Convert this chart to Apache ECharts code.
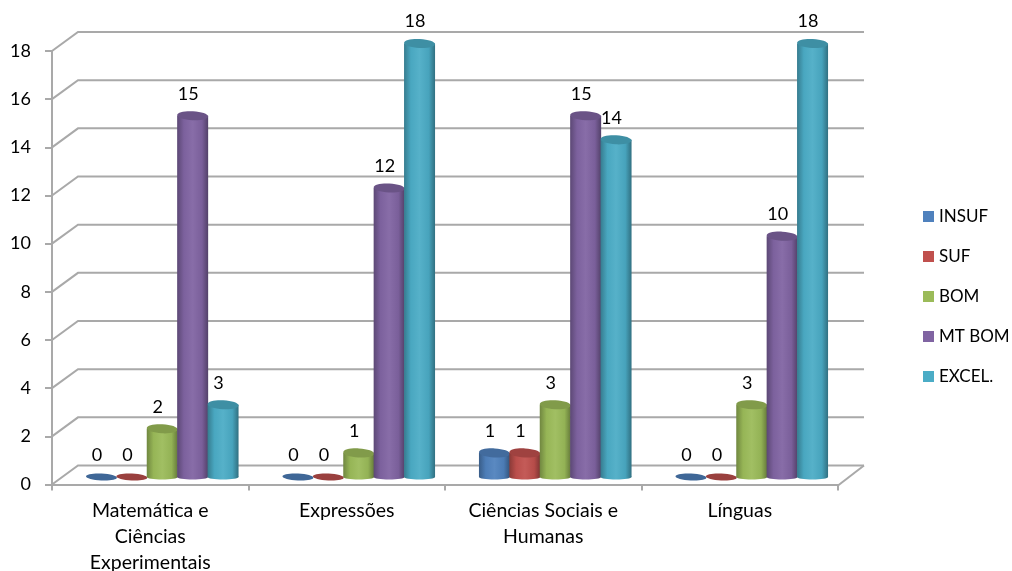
<!DOCTYPE html>
<html><head><meta charset="utf-8">
<style>html,body{margin:0;padding:0;background:#fff}#c{width:1012px;height:571px}#c canvas{filter:blur(0.6px)}</style>
<script src="https://cdn.jsdelivr.net/npm/echarts@6/dist/echarts.min.js"></script>
</head><body><div id="c"></div>
<script>
var categories = ['Matemática e\nCiências\nExperimentais','Expressões','Ciências Sociais e\nHumanas','Línguas'];
var seriesNames = ['INSUF','SUF','BOM','MT BOM','EXCEL.'];
var insuf = [0,0,1,0];
var suf = [0,0,1,0];
var bom = [2,1,3,3];
var mtBom = [15,12,15,10];
var excel = [3,18,14,18];
var yTicks = [0,2,4,6,8,10,12,14,16,18];
var colors = ['#4f81bd','#c0504d','#9bbb59','#8064a2','#4bacc6'];

var FONT = 'Lato';
var GRID = {left:52,right:174,top:51,bottom:86.5,outerBoundsMode:'none'};
var DEPTH = {x:26,y:-19};
var BAR = {w:31,step:30.4,rx:15.5,ry:4.5,ryBottom:2.5,dx:12,dy:-7.5,rot:-0.05};

function shade(hex,f){
  var n=parseInt(hex.slice(1),16),r=(n>>16)&255,g=(n>>8)&255,b=n&255;
  function c(v){return Math.round(f<0?v*(1+f):v+(255-v)*f);}
  return 'rgb('+c(r)+','+c(g)+','+c(b)+')';
}
function barSeries(name,idx,values){
  var base=colors[idx];
  return {
    type:'custom',name:name,z:3+idx,
    itemStyle:{color:base},
    encode:{x:0,y:1},
    data:values.map(function(v,i){return [i,v];}),
    renderItem:function(params,api){
      var cat=api.value(0),val=api.value(1);
      var top=api.coord([cat,val]),bot=api.coord([cat,0]);
      var cx=top[0]+(idx-2)*BAR.step+BAR.dx;
      var yt=top[1]+BAR.dy,yb=bot[1]+BAR.dy;
      var kids=[];
      if(val>0){
        var body=new echarts.graphic.LinearGradient(0,0,1,0,[
          {offset:0,color:shade(base,-0.28)},
          {offset:0.22,color:shade(base,-0.03)},
          {offset:0.5,color:shade(base,0.06)},
          {offset:0.8,color:shade(base,-0.05)},
          {offset:1,color:shade(base,-0.35)}]);
        kids.push({type:'rect',shape:{x:cx-BAR.rx,y:yt,width:BAR.w,height:yb-yt},style:{fill:body}});
        kids.push({type:'ellipse',shape:{cx:cx,cy:yb,rx:BAR.rx,ry:BAR.ryBottom},style:{fill:body}});
        kids.push({type:'ellipse',x:cx,y:yt,rotation:BAR.rot,shape:{cx:0,cy:0,rx:BAR.rx,ry:BAR.ry},style:{fill:shade(base,-0.17)}});
      } else {
        kids.push({type:'ellipse',x:cx,y:yb,rotation:BAR.rot,shape:{cx:0,cy:0,rx:BAR.rx,ry:3.5},style:{fill:shade(base,-0.2)}});
      }
      kids.push({type:'text',style:{text:String(val),x:cx-4.5,y:yt-22,align:'center',verticalAlign:'middle',
        fill:'#000',font:'18px '+FONT}});
      return {type:'group',children:kids};
    }
  };
}
var wallSeries={
  type:'custom',silent:true,z:1,
  encode:{y:0},
  data:yTicks.map(function(t){return [t];}),
  renderItem:function(params,api){
    var y=api.coord([0,api.value(0)])[1];
    var cs=params.coordSys,x0=cs.x,x1=cs.x+cs.width;
    var ls={stroke:'#a9a9a9',lineWidth:2,fill:null};
    var kids=[{type:'polyline',shape:{points:[[x0,y],[x0+DEPTH.x,y+DEPTH.y],[x1+DEPTH.x,y+DEPTH.y]]},style:ls}];
    if(api.value(0)===0){
      kids.push({type:'line',shape:{x1:x1,y1:y+1,x2:x1+DEPTH.x,y2:y+DEPTH.y},style:ls});
    }
    return {type:'group',children:kids};
  }
};
var values=[insuf,suf,bom,mtBom,excel];
var series=[wallSeries].concat(seriesNames.map(function(n,i){return barSeries(n,i,values[i]);}));
var chart=echarts.init(document.getElementById('c'),null,{renderer:'canvas'});
chart.setOption({
  animation:false,backgroundColor:'#fff',
  grid:GRID,
  legend:{orient:'vertical',left:918,top:203,itemWidth:11,itemHeight:11,itemGap:23,
    icon:'rect',selectedMode:false,data:seriesNames,
    textStyle:{fontFamily:FONT,fontSize:17,color:'#000'}},
  xAxis:{type:'category',data:categories,
    axisLine:{show:true,lineStyle:{color:'#a9a9a9',width:2}},
    axisTick:{show:true,alignWithLabel:false,length:6,lineStyle:{color:'#a9a9a9',width:2}},
    axisLabel:{interval:0,fontFamily:FONT,fontSize:19.5,color:'#000',lineHeight:26,margin:13}},
  yAxis:{type:'value',min:0,max:18,interval:2,
    splitLine:{show:false},
    axisLine:{show:true,lineStyle:{color:'#a9a9a9',width:2}},
    axisTick:{show:true,length:7,lineStyle:{color:'#a9a9a9',width:2}},
    axisLabel:{fontFamily:FONT,fontSize:18,color:'#000',margin:21,padding:[2,0,0,0]}},
  series:series
});
</script></body></html>
